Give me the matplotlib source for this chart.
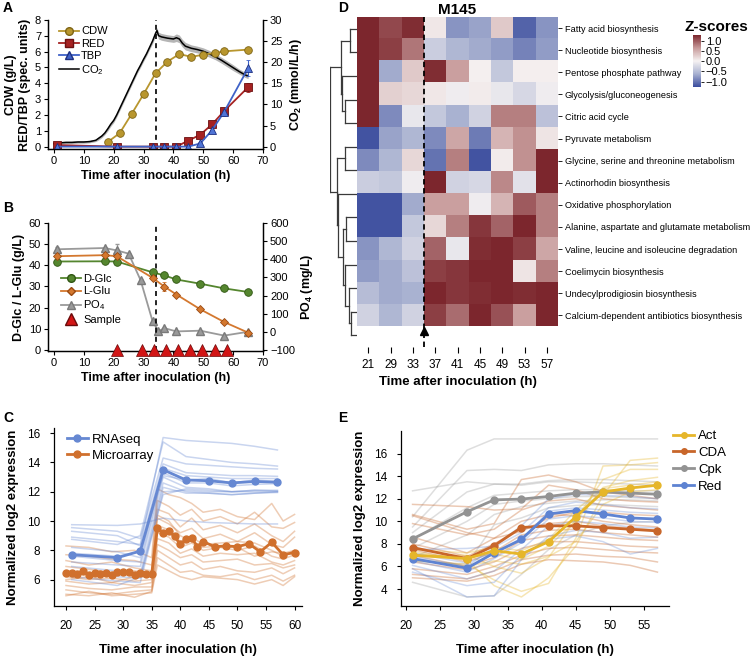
import matplotlib
matplotlib.use("Agg")
import matplotlib.pyplot as plt
from matplotlib.colors import LinearSegmentedColormap, TwoSlopeNorm
from matplotlib.lines import Line2D
import numpy as np

plt.rcParams['font.family'] = ['Liberation Sans', 'DejaVu Sans']
plt.rcParams['mathtext.fontset'] = 'custom'
plt.rcParams['mathtext.rm'] = 'Liberation Sans'
plt.rcParams['mathtext.default'] = 'regular'
plt.rcParams['axes.linewidth'] = 0.9

# ---------------- data ----------------
# A: growth
cdw_t = [18, 22, 26, 30, 34, 38, 42, 46, 50, 54, 57, 65]
cdw = [0.29, 0.85, 2.06, 3.31, 4.63, 5.37, 5.85, 5.67, 5.81, 5.92, 6.02, 6.13]
prod_t = [1, 21, 33, 37, 41, 45, 49, 53, 57, 65]
red = [0.1, 0, 0, 0, 0, 0.38, 0.75, 1.42, 2.25, 3.75]
red_err = [0, 0, 0, 0, 0, 0.05, 0.1, 0.2, 0.2, 0.3]
tbp = [0, 0, 0, 0, 0, 0, 0.2, 1.05, 2.2, 4.95]
tbp_err = [0, 0, 0, 0, 0, 0, 0.1, 0.15, 0.25, 0.5]
co2_t = [0, 2, 4, 6, 8, 10, 12, 14, 15, 16, 17, 18, 19, 20, 21, 22, 23, 24, 25, 26,
         27, 28, 29, 30, 31, 32, 33, 34, 34.5, 35, 36, 38, 40, 41, 42, 43, 44, 46,
         48, 50, 52, 54, 56, 58, 60, 62, 64, 65]
co2 = [0.7, 0.9, 1.0, 1.0, 1.1, 1.1, 1.2, 1.5, 2.0, 2.5, 3.2, 4.2, 5.3, 6.2, 7.5, 9.0,
       10.5, 12.0, 13.5, 15.0, 16.5, 18.0, 19.3, 20.7, 22.0, 23.5, 25.0, 26.8, 27.5,
       26.3, 26.0, 25.7, 25.5, 25.8, 25.5, 24.5, 23.8, 23.3, 23.0, 22.6, 22.0, 21.3,
       20.5, 19.6, 18.7, 17.8, 17.0, 16.7]
co2_sd = [0.3, 0.3, 0.3, 0.3, 0.3, 0.3, 0.3, 0.3, 0.4, 0.4, 0.4, 0.5, 0.5, 0.5, 0.5,
          0.5, 0.5, 0.5, 0.5, 0.5, 0.5, 0.5, 0.5, 0.5, 0.5, 0.5, 0.6, 0.7, 0.7, 0.8,
          0.8, 0.8, 0.8, 0.9, 0.9, 0.9, 0.9, 0.8, 0.8, 0.8, 0.8, 0.7, 0.7, 0.7, 0.7,
          0.6, 0.6, 0.6]

# B: nutrients
glc_t = [1, 17, 21, 33, 37, 41, 49, 57, 65]
glc = [41.8, 41.9, 41.8, 36.7, 35.2, 33.3, 31.3, 29.1, 27.4]
glu = [44.3, 44.8, 44.3, 34.1, 29.9, 26.2, 19.2, 13.2, 8.2]
glu_err = [0, 0, 0, 0, 2.0, 0, 0, 0, 0]
po4_t = [1, 17, 21, 25, 29, 33, 35, 37, 41, 49, 57, 65]
po4 = [455, 462, 449, 431, 285, 59, 3, 20, 2, 6, -21, 0]
po4_err = [15, 0, 35, 0, 0, 0, 0, 0, 0, 0, 0, 0]
sample_t = [21, 29.5, 33.5, 37.5, 41.5, 45.5, 49.5, 54, 58]

# C: RNAseq vs microarray
rna_t = [21, 29, 33, 37, 41, 45, 49, 53, 57]
rna_mean = [7.7, 7.5, 7.95, 13.5, 12.8, 12.75, 12.6, 12.7, 12.65]
rna_genes = [
    [9.75, 9.7, 9.8, 10.2, 10.0, 9.9, 9.85, 9.8, 9.8],
    [8.9, 8.6, 8.4, 15.7, 15.5, 15.4, 15.3, 15.1, 14.85],
    [8.75, 8.4, 9.0, 15.4, 14.4, 14.2, 14.0, 13.9, 13.75],
    [9.55, 9.3, 8.8, 14.3, 13.9, 13.8, 13.7, 13.6, 13.55],
    [9.3, 9.0, 8.3, 13.9, 13.3, 13.2, 13.1, 13.1, 13.05],
    [8.2, 7.9, 7.5, 13.6, 13.1, 13.0, 12.9, 12.9, 12.9],
    [7.6, 7.3, 7.2, 13.3, 12.6, 12.6, 12.4, 12.5, 12.55],
    [7.2, 7.0, 6.9, 13.0, 12.3, 12.2, 12.0, 12.1, 12.1],
    [6.9, 6.6, 6.4, 12.6, 12.0, 11.9, 11.8, 11.9, 12.0],
    [6.5, 6.2, 6.1, 12.3, 11.9, 11.9, 11.8, 11.9, 11.95],
    [6.2, 5.9, 5.8, 12.0, 12.1, 12.0, 12.0, 12.0, 12.0],
    [6.0, 5.6, 6.2, 11.8, 12.2, 12.1, 12.0, 12.1, 12.05],
    [7.8, 7.6, 7.9, 13.1, 12.8, 12.9, 12.6, 12.8, 12.7],
]
ma_t = [20, 21, 22, 23, 24, 25, 26, 27, 28, 29, 30, 31, 32, 33, 34, 35, 36, 37, 38, 39,
        40, 41, 42, 43, 44, 46, 48, 50, 52, 54, 56, 58, 60]
ma_mean = [6.45, 6.45, 6.4, 6.6, 6.3, 6.45, 6.4, 6.45, 6.3, 6.5, 6.55, 6.5, 6.35, 6.45,
           6.4, 6.4, 9.5, 9.2, 9.3, 8.95, 8.4, 8.75, 8.85, 8.25, 8.6, 8.25, 8.3, 8.25,
           8.45, 7.9, 8.55, 7.7, 7.85]
ma_gene_t = [20, 24, 28, 32, 35, 36, 38, 40, 42, 44, 47, 50, 53, 56, 58, 60]
ma_genes = [
    [8.3, 8.2, 7.9, 8.0, 7.5, 12.2, 11.8, 11.6, 11.2, 10.6, 10.8, 10.3, 10.1, 11.2, 10.0, 10.45],
    [7.7, 7.6, 7.4, 7.3, 7.0, 11.4, 11.0, 10.4, 10.8, 10.0, 10.3, 9.8, 10.6, 9.6, 9.5, 9.9],
    [7.3, 7.0, 7.2, 6.8, 6.6, 10.8, 10.5, 9.6, 10.2, 9.4, 9.7, 9.2, 9.8, 9.0, 8.6, 9.3],
    [6.9, 6.7, 6.5, 6.6, 6.4, 10.2, 9.8, 9.2, 9.5, 8.8, 9.1, 8.6, 9.2, 8.4, 8.2, 8.9],
    [6.6, 6.4, 6.3, 6.5, 6.3, 9.7, 9.4, 8.6, 8.9, 8.4, 8.5, 8.6, 8.5, 8.0, 7.6, 8.0],
    [6.2, 6.0, 6.1, 5.9, 6.0, 9.2, 8.9, 8.2, 8.5, 8.0, 8.2, 8.0, 8.3, 7.6, 7.4, 7.7],
    [5.9, 5.7, 5.8, 5.6, 5.8, 8.8, 8.5, 7.8, 8.1, 7.6, 7.8, 7.7, 7.8, 7.2, 7.0, 7.3],
    [5.6, 5.4, 5.3, 5.5, 5.5, 8.4, 8.0, 7.5, 7.7, 7.2, 7.3, 7.4, 7.0, 7.1, 6.8, 7.0],
    [5.3, 5.1, 5.0, 5.2, 5.3, 8.0, 7.5, 7.0, 7.2, 6.7, 6.9, 6.6, 6.5, 6.8, 6.4, 6.8],
    [5.0, 4.9, 5.1, 4.8, 5.2, 7.5, 7.0, 6.5, 6.6, 6.3, 6.2, 6.4, 6.0, 6.3, 5.9, 6.3],
    [4.9, 5.2, 4.9, 5.0, 5.1, 7.0, 6.6, 6.2, 6.0, 6.2, 6.1, 6.0, 5.7, 6.0, 5.6, 6.2],
    [6.0, 6.2, 5.8, 6.2, 6.2, 10.4, 10.0, 9.0, 8.6, 8.2, 8.3, 8.2, 7.6, 7.9, 7.8, 8.0],
]

# D: pathway z-scores
hm_times = [21, 29, 33, 37, 41, 45, 49, 53, 57]
pathways = ["Fatty acid biosynthesis", "Nucleotide biosynthesis", "Pentose phosphate pathway",
            "Glycolysis/gluconeogenesis", "Citric acid cycle", "Pyruvate metabolism",
            "Glycine, serine and threonine metabolism", "Actinorhodin biosynthesis",
            "Oxidative phosphorylation", "Alanine, aspartate and glutamate metabolism",
            "Valine, leucine and isoleucine degradation", "Coelimycin biosynthesis",
            "Undecylprodigiosin biosynthesis", "Calcium-dependent antibiotics biosynthesis"]
zscores = [
    [1.3, 1.1, 1.25, 0.08, -0.8, -0.7, 0.3, -1.1, -0.8],
    [1.3, 1.15, 0.85, -0.35, -0.55, -0.65, -0.75, -0.9, -0.75],
    [1.3, -0.65, 0.3, 1.25, 0.6, 0.02, -0.4, 0.03, 0.03],
    [1.3, 0.25, 0.2, 0.08, -0.05, 0.05, -0.1, -0.25, -0.05],
    [1.3, -0.85, -0.1, -0.4, -0.6, -0.3, 0.8, 0.8, -0.45],
    [-1.2, -0.7, -0.55, -0.85, 0.55, -0.95, 0.45, 0.7, 0.1],
    [-0.85, -0.55, 0.2, -1.0, 0.8, -1.2, 0.05, 0.7, 1.3],
    [-0.35, -0.4, -0.05, 1.3, -0.3, -0.25, 0.75, -0.15, 1.3],
    [-1.2, -1.2, -0.65, 0.6, 0.6, -0.05, 0.45, 1.0, 0.8],
    [-1.2, -1.2, -0.4, 0.2, 0.8, 1.2, 0.95, 1.3, 0.8],
    [-0.8, -0.55, -0.3, 0.95, -0.1, 1.25, 1.3, 1.15, 0.55],
    [-0.75, -0.65, -0.45, 1.15, 1.2, 1.3, 1.3, 0.1, 0.8],
    [-0.5, -0.65, -0.6, 1.3, 1.2, 1.25, 1.3, 1.25, 1.3],
    [-0.3, -0.55, -0.3, 1.15, 0.9, 1.3, 1.05, 0.6, 1.3],
]
# row dendrogram merges: (child a, child b, height)
dendro_merges = [(0, 1, 20), (3, 4, 35), (2, 15, 43), (14, 16, 48), (5, 6, 35),
                 (12, 13, 17), (11, 19, 25), (10, 20, 35), (8, 9, 32), (22, 21, 42),
                 (7, 23, 55), (18, 24, 60), (17, 25, 79)]

# E: cluster genes
clu_t = [21, 29, 33, 37, 41, 45, 49, 53, 57]
act_mean = [7.0, 6.7, 7.4, 7.1, 8.2, 10.4, 12.6, 12.95, 13.2]
cda_mean = [7.68, 6.7, 7.85, 9.45, 9.6, 9.6, 9.45, 9.3, 9.15]
cpk_mean = [8.44, 10.85, 11.9, 11.97, 12.2, 12.5, 12.6, 12.5, 12.4]
red_mean = [6.7, 5.85, 7.2, 8.4, 10.65, 10.95, 10.65, 10.3, 10.2]
cpk_genes = [
    [10.4, 16.3, 17.3, 17.3, 17.3, 17.3, 17.3, 17.3, 17.3],
    [12.7, 13.5, 13.3, 13.2, 13.5, 13.5, 13.4, 13.3, 13.2],
    [9.5, 14.5, 14.6, 14.5, 15.0, 15.1, 15.1, 15.0, 14.9],
    [9.0, 12.6, 13.3, 13.3, 13.6, 13.7, 13.7, 13.6, 13.5],
    [8.4, 11.2, 12.3, 12.5, 12.7, 12.8, 12.8, 12.7, 12.7],
    [7.6, 10.0, 11.5, 11.8, 12.0, 12.2, 12.2, 12.1, 12.0],
    [6.8, 8.8, 10.6, 11.3, 11.6, 11.8, 11.9, 11.9, 11.8],
    [4.6, 3.3, 3.4, 5.3, 7.5, 8.8, 9.6, 9.9, 10.0],
    [6.5, 6.2, 9.7, 10.3, 11.2, 11.4, 11.5, 11.4, 11.3],
]
cda_genes = [
    [11.5, 11.3, 11.0, 11.1, 13.2, 12.8, 12.0, 11.8, 11.7],
    [10.6, 9.3, 9.8, 13.7, 14.1, 13.5, 12.6, 12.3, 12.0],
    [9.8, 8.8, 9.3, 11.0, 11.8, 12.0, 11.4, 11.2, 11.0],
    [8.6, 7.2, 8.5, 10.0, 10.6, 10.5, 10.0, 9.7, 9.5],
    [8.0, 6.9, 8.0, 9.4, 9.8, 10.0, 9.6, 9.4, 9.2],
    [7.5, 6.4, 7.3, 8.8, 9.2, 9.3, 9.0, 8.8, 8.6],
    [7.0, 6.0, 6.8, 8.3, 8.7, 8.8, 8.6, 8.4, 8.3],
    [6.4, 5.7, 6.4, 7.6, 8.2, 8.2, 8.0, 7.8, 7.7],
    [5.8, 5.3, 6.0, 7.0, 7.6, 7.7, 7.5, 7.3, 7.2],
    [5.3, 4.9, 5.6, 6.6, 7.0, 7.1, 6.9, 6.8, 6.4],
    [5.0, 4.7, 5.2, 6.2, 6.6, 6.5, 6.4, 6.1, 5.5],
    [10.5, 9.0, 8.5, 9.1, 10.3, 10.8, 10.8, 10.6, 10.5],
]
act_genes = [
    [7.3, 6.6, 4.3, 3.3, 5.0, 7.8, 12.3, 15.4, 15.6],
    [6.5, 6.2, 4.8, 3.8, 4.5, 8.5, 14.9, 15.0, 15.2],
    [6.9, 7.0, 6.0, 5.4, 6.8, 10.2, 13.7, 14.6, 14.6],
    [7.1, 6.8, 7.1, 6.6, 7.8, 10.0, 13.0, 13.6, 13.9],
    [7.5, 7.2, 7.7, 7.4, 8.4, 11.0, 12.9, 13.2, 13.5],
    [6.7, 6.0, 6.5, 6.2, 6.9, 8.2, 11.5, 12.6, 12.8],
]
red_genes = [
    [7.5, 7.6, 7.8, 9.6, 12.0, 12.4, 12.3, 12.2, 12.0],
    [6.9, 6.0, 7.7, 9.0, 11.2, 11.7, 11.5, 11.2, 11.1],
    [6.5, 5.5, 6.7, 8.1, 10.2, 10.5, 10.3, 10.0, 9.9],
    [6.1, 4.9, 5.6, 7.5, 9.6, 10.0, 9.8, 9.5, 9.4],
    [5.8, 3.3, 3.4, 6.6, 8.7, 9.2, 9.0, 8.5, 8.6],
    [5.5, 4.3, 4.6, 7.0, 8.4, 8.7, 8.2, 7.1, 7.6],
    [7.2, 6.3, 7.3, 8.3, 10.9, 11.2, 11.0, 10.8, 10.7],
]

# colours
C_CDW, C_RED, C_TBP = '#B8962E', '#A52222', '#3F62C8'
C_GLC, C_GLU, C_PO4 = '#55862F', '#D4782F', '#9A9A9A'
C_BLUE, C_ORANGE = '#6688D2', '#D0702D'
C_ACT, C_CDA, C_CPK, C_REDC = '#E6B62A', '#C8662A', '#939393', '#5E83D2'

W, H = 750, 660


def rect(l, t, r, b):
    return [l / W, 1 - b / H, (r - l) / W, (b - t) / H]


fig = plt.figure(figsize=(7.5, 6.6), dpi=100)
TICK = 8
LAB = 9

# ---------------- A ----------------
axA = fig.add_axes(rect(48, 20, 263, 149))
axA2 = axA.twinx()
axA2.fill_between(co2_t, np.array(co2) - np.array(co2_sd), np.array(co2) + np.array(co2_sd),
                  color='#B5B5B5', lw=0)
axA2.plot(co2_t, co2, color='black', lw=1.1)
axA2.set_ylim(-0.56, 30)
axA2.set_yticks(range(0, 31, 5))
axA.set_zorder(axA2.get_zorder() + 1)
axA.patch.set_visible(False)
axA.axvline(34, color='black', ls='--', lw=1.2, dashes=(3, 2.5))
axA.plot(cdw_t, cdw, '-o', color=C_CDW, mec='#7E6414', mew=0.6, ms=5.5, lw=1.3)
axA.errorbar(prod_t, red, yerr=red_err, fmt='-s', color=C_RED, mec='#6B1010', mew=0.6,
             ms=5.5, lw=1.3, capsize=1.5, elinewidth=0.8)
axA.errorbar(prod_t, tbp, yerr=tbp_err, fmt='-^', color=C_TBP, mfc='#4F74D6', mec='#1D2F80',
             mew=0.6, ms=6, lw=1.3, capsize=1.5, elinewidth=0.8)
axA.set_xlim(-2, 70)
axA.set_ylim(-0.15, 8)
axA.set_xticks(range(0, 71, 10))
axA.set_yticks(range(0, 9))
axA.set_ylabel("CDW (g/L)\nRED/TBP (spec. units)", fontsize=LAB, fontweight='bold', labelpad=3)
axA2.set_ylabel("CO$_2$ (mmol/L/h)", fontsize=LAB, fontweight='bold', labelpad=4)
axA.set_xlabel("Time after inoculation (h)", fontsize=LAB, fontweight='bold', labelpad=3)
for a in (axA, axA2):
    a.spines['top'].set_visible(False)
    a.tick_params(labelsize=TICK, length=3, width=0.8, pad=2)
hA = [Line2D([], [], color=C_CDW, marker='o', mec='#7E6414', ms=5.5, lw=1.3),
      Line2D([], [], color=C_RED, marker='s', mec='#6B1010', ms=5.5, lw=1.3),
      Line2D([], [], color=C_TBP, marker='^', mec='#1D2F80', ms=6, lw=1.3),
      Line2D([], [], color='black', lw=1.1)]
axA.legend(hA, ['CDW', 'RED', 'TBP', 'CO$_2$'], loc='upper left', bbox_to_anchor=(0.05, 0.95),
           frameon=False, fontsize=8, handlelength=1.8, handletextpad=0.2, labelspacing=0.2,
           borderaxespad=0, borderpad=0)

# ---------------- B ----------------
axB = fig.add_axes(rect(48, 223, 263, 351))
axB2 = axB.twinx()
axB2.errorbar(po4_t, po4, yerr=po4_err, fmt='-^', color=C_PO4, mec='#7A7A7A', ms=6, lw=1.3,
              capsize=1.5, elinewidth=0.8)
axB2.set_ylim(-106, 600)
axB2.set_yticks(range(-100, 601, 100))
axB.set_zorder(axB2.get_zorder() + 1)
axB.patch.set_visible(False)
axB.axvline(34, color='black', ls='--', lw=1.2, dashes=(3, 2.5))
axB.plot(glc_t, glc, '-o', color=C_GLC, mec='#2F5512', mew=0.6, ms=5.5, lw=1.3)
axB.errorbar(glc_t, glu, yerr=glu_err, fmt='-D', color=C_GLU, mec='#9A4A12', mew=0.6, ms=4.5,
             lw=1.3, capsize=1.5, elinewidth=0.8)
axB.plot(sample_t, [0] * len(sample_t), '^', color='#D21515', mec='#6A0A0A', mew=0.5, ms=8,
         clip_on=False, zorder=5)
axB.set_xlim(-2, 70)
axB.set_ylim(-0.5, 60)
axB.set_xticks(range(0, 71, 10))
axB.set_yticks(range(0, 61, 10))
axB.set_ylabel("D-Glc / L-Glu (g/L)", fontsize=LAB, fontweight='bold', labelpad=3)
axB2.set_ylabel("PO$_4$ (mg/L)", fontsize=LAB, fontweight='bold', labelpad=3)
axB.set_xlabel("Time after inoculation (h)", fontsize=LAB, fontweight='bold', labelpad=3)
for a in (axB, axB2):
    a.spines['top'].set_visible(False)
    a.tick_params(labelsize=TICK, length=3, width=0.8, pad=2)
hB = [Line2D([], [], color=C_GLC, marker='o', mec='#2F5512', ms=5.5, lw=1.3),
      Line2D([], [], color=C_GLU, marker='D', mec='#9A4A12', ms=4.5, lw=1.3),
      Line2D([], [], color=C_PO4, marker='^', mec='#7A7A7A', ms=6, lw=1.3),
      Line2D([], [], color='#D21515', marker='^', mec='#6A0A0A', ms=8, lw=0)]
axB.legend(hB, ['D-Glc', 'L-Glu', 'PO$_4$', 'Sample'], loc='upper left',
           bbox_to_anchor=(0.06, 0.6), frameon=False, fontsize=8, handlelength=1.8,
           handletextpad=0.2, labelspacing=0.2, borderaxespad=0, borderpad=0)

# ---------------- C ----------------
axC = fig.add_axes(rect(54, 428, 302, 606))
for g in ma_genes:
    axC.plot(ma_gene_t, g, color=C_ORANGE, alpha=0.35, lw=1.1)
for g in rna_genes:
    axC.plot(rna_t, g, color=C_BLUE, alpha=0.35, lw=1.1)
axC.plot(rna_t, rna_mean, '-o', color=C_BLUE, lw=2, ms=5, label='RNAseq')
axC.plot(ma_t, ma_mean, '-o', color=C_ORANGE, lw=2, ms=5, label='Microarray')
axC.set_xlim(17.9, 61.3)
axC.set_ylim(4.2, 16.35)
axC.set_xticks(range(20, 61, 5))
axC.set_yticks(range(6, 17, 2))
axC.spines['top'].set_visible(False)
axC.spines['right'].set_visible(False)
axC.tick_params(labelsize=8.5, length=3, width=0.8, pad=7)
axC.set_ylabel("Normalized log2 expression", fontsize=9.5, fontweight='bold', labelpad=6)
axC.set_xlabel("Time after inoculation (h)", fontsize=9.5, fontweight='bold', labelpad=9)
axC.legend(loc='upper left', bbox_to_anchor=(0.03, 1.0), frameon=False, fontsize=9.5,
           handlelength=1.6, handletextpad=0.3, labelspacing=0.3, borderaxespad=0)

# ---------------- D ----------------
cmap = LinearSegmentedColormap.from_list('zs', ['#3A4C9E', '#A7B0D0', '#F6F2F2', '#C79A9A', '#7C262D'])
norm = TwoSlopeNorm(vmin=-1.25, vcenter=0, vmax=1.3)
axD = fig.add_axes(rect(357, 17, 558, 347))
im = axD.imshow(np.array(zscores), cmap=cmap, norm=norm, aspect='auto',
                extent=[0, len(hm_times), len(pathways), 0], interpolation='nearest')
axD.axvline(3, color='black', ls='--', lw=1.3, dashes=(3, 2))
axD.plot([3], [len(pathways) + 0.22], marker='^', color='black', ms=6, clip_on=False)
axD.set_xticks(np.arange(len(hm_times)) + 0.5)
axD.set_xticklabels(hm_times)
axD.set_yticks(np.arange(len(pathways)) + 0.5)
axD.set_yticklabels(pathways)
axD.yaxis.tick_right()
axD.tick_params(axis='y', labelsize=6.6, length=3, width=0.6, pad=2)
axD.tick_params(axis='x', labelsize=8.5, length=4, width=0.8, pad=5)
for s in axD.spines.values():
    s.set_visible(False)
axD.set_xlabel("Time after inoculation (h)", fontsize=9.5, fontweight='bold', labelpad=3)
axD.set_title("M145", fontsize=11, fontweight='bold', pad=2)

axDd = fig.add_axes(rect(330, 17, 357, 347))
n = len(pathways)
ypos = {i: i + 0.5 for i in range(n)}
hgt = {i: 0 for i in range(n)}
for k, (a, b, h) in enumerate(dendro_merges):
    for c in (a, b):
        axDd.plot([hgt[c], h], [ypos[c], ypos[c]], color='#3A3A3A', lw=0.9)
    axDd.plot([h, h], [ypos[a], ypos[b]], color='#3A3A3A', lw=0.9)
    ypos[n + k] = (ypos[a] + ypos[b]) / 2
    hgt[n + k] = h
axDd.set_xlim(80, 0)
axDd.set_ylim(n, 0)
axDd.axis('off')

cax = fig.add_axes(rect(693, 35, 701, 87))
cb = fig.colorbar(im, cax=cax, ticks=[-1, -0.5, 0, 0.5, 1])
cb.outline.set_visible(False)
cb.ax.tick_params(labelsize=8, length=2.5, width=0.6, pad=1)
cb.ax.set_yticklabels(['\u22121.0', '\u22120.5', '0.0', '0.5', '1.0'])
fig.text(716 / W, 1 - 27 / H, "Z-scores", fontsize=11, fontweight='bold', ha='center', va='center')

# ---------------- E ----------------
axE = fig.add_axes(rect(401, 431, 669, 606))
for g in cpk_genes:
    axE.plot(clu_t, g, color=C_CPK, alpha=0.3, lw=1.1)
for g in cda_genes:
    axE.plot(clu_t, g, color=C_CDA, alpha=0.35, lw=1.1)
for g in act_genes:
    axE.plot(clu_t, g, color=C_ACT, alpha=0.35, lw=1.1)
for g in red_genes:
    axE.plot(clu_t, g, color=C_REDC, alpha=0.3, lw=1.1)
axE.plot(clu_t, cpk_mean, '-o', color=C_CPK, lw=2, ms=5, label='Cpk', zorder=4)
axE.plot(clu_t, cda_mean, '-o', color=C_CDA, lw=2, ms=5, label='CDA', zorder=4)
axE.plot(clu_t, red_mean, '-o', color=C_REDC, lw=2, ms=5, label='Red', zorder=4)
axE.plot(clu_t, act_mean, '-o', color=C_ACT, lw=2, ms=5, label='Act', zorder=4)
axE.set_xlim(19.3, 58.7)
axE.set_ylim(2.5, 18.0)
axE.set_xticks(range(20, 56, 5))
axE.set_yticks(range(4, 17, 2))
axE.spines['top'].set_visible(False)
axE.spines['right'].set_visible(False)
axE.tick_params(labelsize=8.5, length=3, width=0.8, pad=7)
axE.set_ylabel("Normalized log2 expression", fontsize=9.5, fontweight='bold', labelpad=6)
axE.set_xlabel("Time after inoculation (h)", fontsize=9.5, fontweight='bold', labelpad=9)
hE = [Line2D([], [], color=c, marker='o', lw=2, ms=4) for c in (C_ACT, C_CDA, C_CPK, C_REDC)]
fig.legend(hE, ['Act', 'CDA', 'Cpk', 'Red'], loc='upper left', bbox_to_anchor=(673 / W, 1 - 430 / H),
           frameon=False, fontsize=9.5, handlelength=1.6, handletextpad=0.3, labelspacing=0.35,
           borderaxespad=0, borderpad=0)

# panel letters
for lab, x, y in [('A', 3, 8), ('B', 3, 208), ('C', 3, 418), ('D', 338, 8), ('E', 338, 418)]:
    fig.text(x / W, 1 - y / H, lab, fontsize=10, fontweight='bold', ha='left', va='center')

fig.savefig("out.png", dpi=100)
